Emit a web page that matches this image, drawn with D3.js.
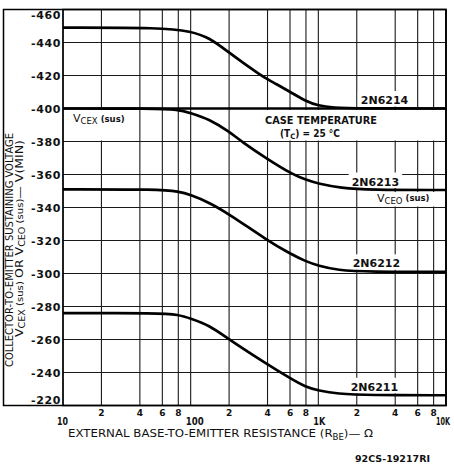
<!DOCTYPE html>
<html><head><meta charset="utf-8">
<script src="https://cdn.jsdelivr.net/npm/d3@7"></script>
<style>
html,body{margin:0;padding:0;background:#fff;}
svg{display:block;}
text{font-family:"DejaVu Sans",sans-serif;fill:#111;}
</style></head>
<body><svg id="c" width="454" height="464"></svg>
<script>
// ---------- data ----------
const seriesNames = ["2N6214","2N6213","2N6212","2N6211"];
const r6214 = [10, 60, 100, 140, 200, 260, 350, 400, 600, 800, 1000, 1300, 2000, 10000];
const v6214 = [-449, -449, -446.8, -443, -433.8, -427.5, -420.5, -417.7, -410.2, -404.3, -401.7, -400.5, -400, -400];
const r6213 = [10, 50, 80, 100, 140, 200, 250, 400, 630, 800, 1000, 1500, 2500, 10000];
const v6213 = [-400, -400, -399.5, -397.2, -393.5, -386, -380, -369.3, -360, -356.8, -354.4, -351.8, -350.6, -350.6];
const r6212 = [10, 57, 80, 100, 140, 200, 400, 600, 800, 1000, 1400, 2500, 10000];
const v6212 = [-351, -351, -349.7, -347.7, -343, -336, -320, -312, -307.3, -304.7, -302, -301, -301];
const r6211 = [10, 57, 80, 100, 140, 200, 400, 600, 800, 1000, 1400, 2500, 10000];
const v6211 = [-276, -276, -275.1, -272.7, -268.6, -260, -244.9, -236.6, -231.1, -229.1, -227.1, -226.2, -226.2];
const yTicks = [-460,-440,-420,-400,-380,-360,-340,-320,-300,-280,-260,-240,-220];
const xGrid = [10,20,40,60,80,100,200,400,600,800,1000,2000,4000,6000,8000,10000];
const xMajor = [10,100,1000,10000];
const xMajorLabels = ["10","100","1K","10K"];
const xMinorLabels = ["2","4","6","8"];

// ---------- scales ----------
const svg = d3.select("#c");
const L = 63, R = 446, T = 9.5, B = 405.5;
const x = d3.scaleLog().domain([10,10000]).range([L,R]);
const y = d3.scaleLinear().domain([-460,-220]).range([T,B]);

// gridlines
const g = svg.append("g");
g.selectAll(".vg").data(xGrid).join("line")
  .attr("x1",d=>x(d)).attr("x2",d=>x(d)).attr("y1",T).attr("y2",B)
  .attr("stroke","#1a1a1a").attr("stroke-width",1.1);
g.selectAll(".hg").data(yTicks).join("line")
  .attr("x1",L).attr("x2",R).attr("y1",d=>y(d)).attr("y2",d=>y(d))
  .attr("stroke","#1a1a1a").attr("stroke-width",1.1);

// white label boxes
const boxes = svg.append("g");
function wbox(x0,y0,x1,y1){boxes.append("rect").attr("x",x0).attr("y",y0).attr("width",x1-x0).attr("height",y1-y0).attr("fill","#fff");}
wbox(L+1, y(-400)+1.5, 138, y(-380)-1);
wbox(x(200)+1, y(-400)+1.5, R-1, y(-380)-1);
wbox(371, 192, 441, y(-340)-1);

// heavy -400 line
svg.append("line").attr("x1",L).attr("x2",R).attr("y1",y(-400)).attr("y2",y(-400))
  .attr("stroke","#000").attr("stroke-width",2.6);

// curves
const series = [[r6214,v6214],[r6213,v6213],[r6212,v6212],[r6211,v6211]];
const line = d3.line().x(d=>x(d[0])).y(d=>y(d[1])).curve(d3.curveBasis);
const labelR = [3300, 2800, 2850, 2750];
series.forEach((s,i)=>{
  const pts = s[0].map((r,k)=>[r,s[1][k]]);
  const endV = s[1][s[1].length-1];
  const lx = x(labelR[i]), ly = y(endV) - 4.5;
  const t = svg.append("text").attr("x",lx).attr("y",ly).attr("text-anchor","middle")
    .attr("font-size",11).attr("font-weight","bold").text(seriesNames[i]);
  const bb = t.node().getBBox();
  svg.insert("rect","text").attr("x",bb.x-3).attr("y",bb.y-3).attr("width",bb.width+6).attr("height",y(endV)-2-(bb.y-3)).attr("fill","#fff");
  svg.append("path").attr("d",line(pts)).attr("fill","none").attr("stroke","#000")
    .attr("stroke-width",2.7).attr("stroke-linejoin","round");
});
svg.selectAll("text").raise();

// frames
svg.append("rect").attr("x",L).attr("y",T).attr("width",R-L).attr("height",B-T)
  .attr("fill","none").attr("stroke","#000").attr("stroke-width",1.5);
svg.append("rect").attr("x",3.5).attr("y",T).attr("width",R-3.5).attr("height",B-T)
  .attr("fill","none").attr("stroke","#000").attr("stroke-width",1.5);

// y tick labels
svg.selectAll(".yl").data(yTicks).join("text")
  .attr("x",61).attr("y",(d,i)=> y(d) + 4 + (i===0?5.5:0) + (i===yTicks.length-1?-5.5:0))
  .attr("text-anchor","end").attr("font-size",11).attr("font-weight","bold")
  .attr("letter-spacing",0.6).text(d=>d);

// x tick labels
const majorW = [11,18,12,14];
const majorDx = [-6,-5,-5,-10];
svg.selectAll(".xm").data(xMajor).join("text")
  .attr("x",(d,i)=>x(d)+majorDx[i]).attr("y",424.5)
  .attr("font-size",11).attr("font-weight","bold")
  .attr("textLength",(d,i)=>majorW[i]).attr("lengthAdjust","spacingAndGlyphs")
  .text((d,i)=>xMajorLabels[i]);
const minorVals = [];
[10,100,1000].forEach(dec=>xMinorLabels.forEach(m=>minorVals.push([dec*(+m),m])));
svg.selectAll(".xn").data(minorVals).join("text")
  .attr("x",d=>x(d[0])).attr("y",416).attr("text-anchor","middle")
  .attr("font-size",9).attr("font-weight","bold").text(d=>d[1]);

// x title
const xt = svg.append("text").attr("x",68).attr("y",437).attr("font-size",11)
  .attr("textLength",305).attr("lengthAdjust","spacingAndGlyphs");
xt.append("tspan").text("EXTERNAL BASE-TO-EMITTER RESISTANCE (R");
xt.append("tspan").attr("font-size",8).attr("dy",2.5).text("BE");
xt.append("tspan").attr("dy",-2.5).text(")— Ω");

// y title
svg.append("text").attr("transform","translate(13,250) rotate(-90)")
  .attr("text-anchor","middle").attr("font-size",10.5)
  .attr("textLength",234).attr("lengthAdjust","spacingAndGlyphs")
  .text("COLLECTOR-TO-EMITTER SUSTAINING VOLTAGE");
const yt2 = svg.append("text").attr("transform","translate(23,238.5) rotate(-90)")
  .attr("text-anchor","middle").attr("font-size",10.5)
  .attr("textLength",197).attr("lengthAdjust","spacingAndGlyphs");
yt2.append("tspan").text("V");
yt2.append("tspan").attr("font-size",8).attr("dy",2).text("CEX");
yt2.append("tspan").attr("font-size",8.5).attr("dy",-2).text(" (sus) ");
yt2.append("tspan").text("OR V");
yt2.append("tspan").attr("font-size",8).attr("dy",2).text("CEO");
yt2.append("tspan").attr("font-size",8.5).attr("dy",-2).text(" (sus)");
yt2.append("tspan").text("— V(MIN)");

// annotations
const a1 = svg.append("text").attr("x",73).attr("y",122).attr("font-size",11);
a1.append("tspan").text("V");
a1.append("tspan").attr("font-size",8.5).attr("dy",2).text("CEX");
a1.append("tspan").attr("font-size",8.5).attr("dy",-2.5).attr("font-weight","bold").text(" (sus)");

const a2 = svg.append("text").attr("x",377).attr("y",202).attr("font-size",11);
a2.append("tspan").text("V");
a2.append("tspan").attr("font-size",8.5).attr("dy",2).text("CEO");
a2.append("tspan").attr("font-size",8.5).attr("dy",-3).attr("font-weight","bold").text(" (sus)");

svg.append("text").attr("x",265).attr("y",123.5).attr("font-size",10).attr("font-weight","bold")
  .attr("textLength",112).attr("lengthAdjust","spacingAndGlyphs").text("CASE TEMPERATURE");
const a3 = svg.append("text").attr("x",280).attr("y",137).attr("font-size",10).attr("font-weight","bold")
  .attr("textLength",60).attr("lengthAdjust","spacingAndGlyphs");
a3.append("tspan").text("(T");
a3.append("tspan").attr("font-size",7.5).attr("dy",2).text("C");
a3.append("tspan").attr("dy",-2).text(") = 25 °C");

svg.append("text").attr("x",355).attr("y",461.5).attr("font-size",9).attr("font-weight","bold")
  .attr("textLength",75).attr("lengthAdjust","spacingAndGlyphs").text("92CS-19217RI");
</script></body></html>
